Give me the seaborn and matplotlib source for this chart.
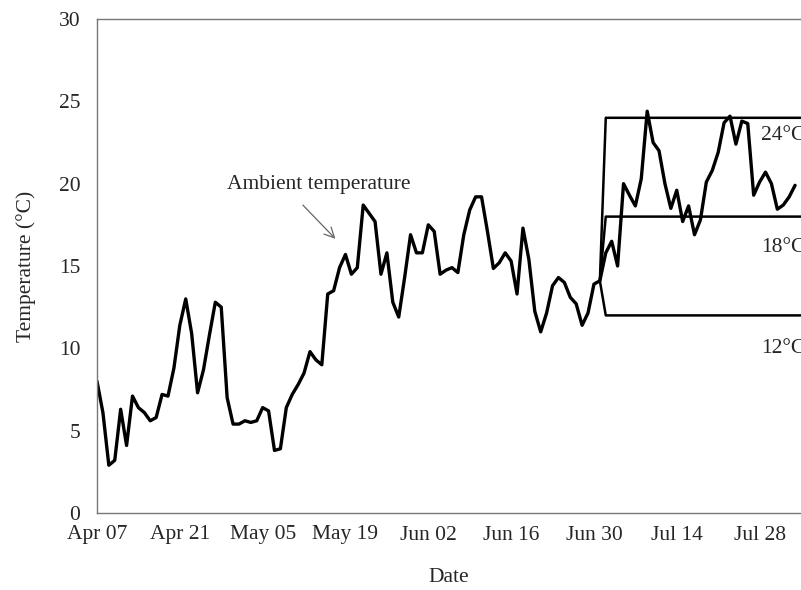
import numpy as np
import pandas as pd
import matplotlib
matplotlib.use("Agg")
import matplotlib.pyplot as plt
import matplotlib.dates as mdates
import seaborn as sns

# ---- data ----
start_date = "2013-04-07"
ambient_temp = [
    8.0, 6.1, 2.9, 3.2, 6.3, 4.1, 7.1, 6.4, 6.1, 5.6,   # Apr 07 - Apr 16
    5.8, 7.2, 7.1, 8.8, 11.4, 13.0, 10.9, 7.3, 8.7, 10.8,  # Apr 17 - Apr 26
    12.8, 12.5, 7.0, 5.4, 5.4, 5.6, 5.5, 5.6, 6.4, 6.2,  # Apr 27 - May 06
    3.8, 3.9, 6.4, 7.2, 7.8, 8.5, 9.8, 9.3, 9.0, 13.3,   # May 07 - May 16
    13.5, 14.9, 15.7, 14.5, 14.9, 18.7, 18.2, 17.7, 14.5, 15.8,  # May 17 - May 26
    12.8, 11.9, 14.3, 16.9, 15.8, 15.8, 17.5, 17.1, 14.5, 14.75,  # May 27 - Jun 05
    14.9, 14.6, 16.9, 18.4, 19.2, 19.2, 17.1, 14.85, 15.2, 15.8,  # Jun 06 - Jun 15
    15.3, 13.3, 17.3, 15.4, 12.25, 11.0, 12.15, 13.8, 14.3, 14.0,  # Jun 16 - Jun 25
    13.1, 12.7, 11.4, 12.15, 13.9, 14.1, 15.8, 16.5, 15.0, 20.0,  # Jun 26 - Jul 05
    19.3, 18.65, 20.3, 24.4, 22.5, 22.0, 20.0, 18.5, 19.6, 17.7,  # Jul 06 - Jul 15
    18.65, 16.9, 17.8, 20.1, 20.8, 21.9, 23.7, 24.1, 22.4, 23.8,  # Jul 16 - Jul 25
    23.65, 19.3, 20.1, 20.7, 20.0, 18.45, 18.7, 19.2, 19.9,       # Jul 26 - Aug 03
]
setpoints = [24, 18, 12]
setpoint_labels = ["24°C", "18°C", "12°C"]
treatment_start = "2013-07-01"   # last ambient day before treatment
x_tick_labels = ["Apr 07", "Apr 21", "May 05", "May 19", "Jun 02",
                 "Jun 16", "Jun 30", "Jul 14", "Jul 28"]

dates = pd.date_range(start_date, periods=len(ambient_temp), freq="D")
df = pd.DataFrame({"Date": dates, "Temperature": ambient_temp})

t0 = pd.Timestamp(treatment_start)
t_end = dates[-1] + pd.Timedelta(days=1)
amb_at_t0 = df.loc[df["Date"] == t0, "Temperature"].iloc[0]
step_rows = []
for sp in setpoints:
    for d, v in [(t0, amb_at_t0), (t0 + pd.Timedelta(days=1), sp), (t_end, sp)]:
        step_rows.append({"Date": d, "Temperature": v, "Set": sp})
steps = pd.DataFrame(step_rows)

# ---- style ----
sns.set_theme(style="white")
plt.rcParams["font.family"] = ["Liberation Serif", "DejaVu Serif"]
plt.rcParams["mathtext.fontset"] = "stix"

fig = plt.figure(figsize=(8.01, 5.90), dpi=100)
ax = fig.add_axes([97 / 801, 1 - 513 / 590, 1 - 97 / 801, (513 - 19) / 590])

sns.lineplot(data=steps, x="Date", y="Temperature", units="Set", estimator=None,
             color="black", linewidth=1.8, ax=ax, legend=False)
sns.lineplot(data=df, x="Date", y="Temperature", color="black",
             linewidth=2.4, ax=ax, legend=False)

x0 = pd.Timestamp(start_date)
ax.set_xlim(x0, x0 + pd.Timedelta(days=117.9))
ax.set_ylim(0, 30)
ax.set_yticks(range(0, 31, 5))

major = [x0 + pd.Timedelta(days=14 * i) for i in range(len(x_tick_labels))]
minor = [x0 + pd.Timedelta(days=7 + 14 * i) for i in range(len(x_tick_labels))]
ax.set_xticks(major)
ax.set_xticklabels(x_tick_labels)
ax.set_xticks(minor, minor=True)

ax.tick_params(axis="both", which="both", direction="in", length=6,
               width=0.9, color="#555555", labelsize=15.5, pad=9)
ax.tick_params(axis="x", which="both", top=False)
ax.tick_params(axis="y", right=False, pad=12)

for side in ["left", "bottom", "top"]:
    ax.spines[side].set_color("#777777")
    ax.spines[side].set_linewidth(1.0)
ax.spines["right"].set_visible(False)

ax.set_xlabel("Date", fontsize=15.5, labelpad=17)
ax.set_ylabel("Temperature (°C)", fontsize=15.5, labelpad=16)

# labels for set points
label_y = [22.9, 16.1, 10.0]
for lab, yv in zip(setpoint_labels, label_y):
    ax.text(x0 + pd.Timedelta(days=112.2), yv, lab, fontsize=15.5,
            va="center", ha="left", clip_on=False)

ax.text(x0 + pd.Timedelta(days=37.4), 19.95, "Ambient temperature",
        fontsize=15.5, ha="center", va="center")
ax.annotate("",
            xy=(x0 + pd.Timedelta(days=40.3), 16.65),
            xytext=(x0 + pd.Timedelta(days=34.8), 18.7),
            arrowprops=dict(arrowstyle="->,head_length=0.6,head_width=0.3",
                            color="#666666", lw=0.9,
                            shrinkA=0, shrinkB=0))

ax.grid(False)
fig.savefig("out.png", dpi=100)
